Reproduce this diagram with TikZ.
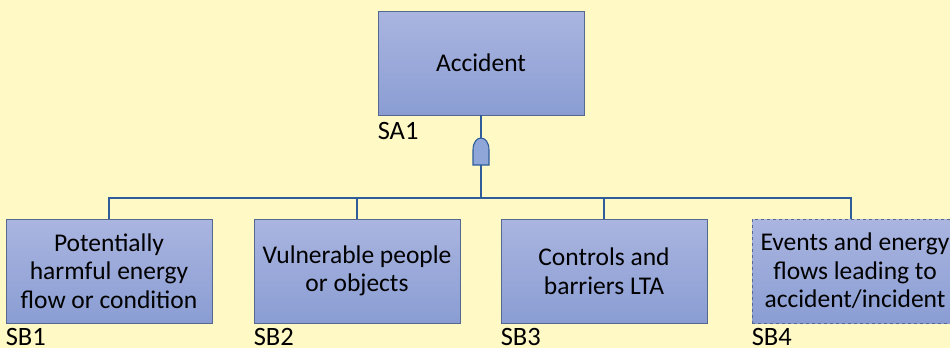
\documentclass[tikz,border=0pt]{standalone}
\usepackage{fontspec}
\setmainfont{Carlito}
\definecolor{bgc}{HTML}{FFF9C6}
\definecolor{boxtop}{HTML}{AAB5E0}
\definecolor{boxbot}{HTML}{8A9DD3}
\definecolor{boxline}{HTML}{55688F}
\definecolor{conn}{HTML}{2F5D9C}
\definecolor{gatefill}{HTML}{8EA6D8}
\tikzset{
  evbox/.style={draw=boxline, line width=0.9pt, top color=boxtop, bottom color=boxbot,
    minimum width=206pt, minimum height=104pt, inner sep=0pt, align=center,
    font=\fontsize{25.5}{28.5}\selectfont},
  conline/.style={draw=conn, line width=1.4pt},
  lbl/.style={inner sep=0pt, font=\fontsize{26.5}{30}\selectfont}
}
\begin{document}
\begin{tikzpicture}[x=1pt,y=-1pt]
\useasboundingbox (0,0) rectangle (950,348);
\clip (0,0) rectangle (950,348);
\fill[bgc] (0,0) rectangle (950,348);

\node[evbox] (acc) at (481,63) {Accident};
\node[evbox] (sb1) at (109,271) {Potentially\\harmful energy\\flow or condition};
\node[evbox] (sb2) at (357,271) {Vulnerable people\\or objects};
\node[evbox] (sb3) at (604,271) {Controls and\\barriers LTA};
\node[evbox, dashed] (sb4) at (855,271) {Events and energy\\flows leading to\\accident/incident};

\node[lbl, anchor=base west] (sa1l) at ([yshift=-24pt]acc.south west) {SA1};
\node[lbl, anchor=base west] (sb1l) at ([yshift=-22pt]sb1.south west) {SB1};
\node[lbl, anchor=base west] (sb2l) at ([yshift=-22pt]sb2.south west) {SB2};
\node[lbl, anchor=base west] (sb3l) at ([yshift=-22pt]sb3.south west) {SB3};
\node[lbl, anchor=base west] (sb4l) at ([yshift=-22pt]sb4.south west) {SB4};

\coordinate (gt) at (481,138);
\coordinate (gb) at (481,165);
\coordinate (bus) at (481,198);
\coordinate (sb4top) at (851,219);

\draw[conline] (acc.south) -- (gt);
\draw[conline] (gb) -- (bus);
\draw[conline] (sb1.north) |- (bus) -| (sb4top);
\draw[conline] (sb2.north) -- (sb2.north |- bus);
\draw[conline] (sb3.north) -- (sb3.north |- bus);

\draw[draw=conn, line width=1.1pt, fill=gatefill]
  (473,165) -- (473,150) .. controls (473,142) and (477,138) .. (gt)
  .. controls (485,138) and (489,142) .. (489,150) -- (489,165) -- cycle;
\end{tikzpicture}
\end{document}
